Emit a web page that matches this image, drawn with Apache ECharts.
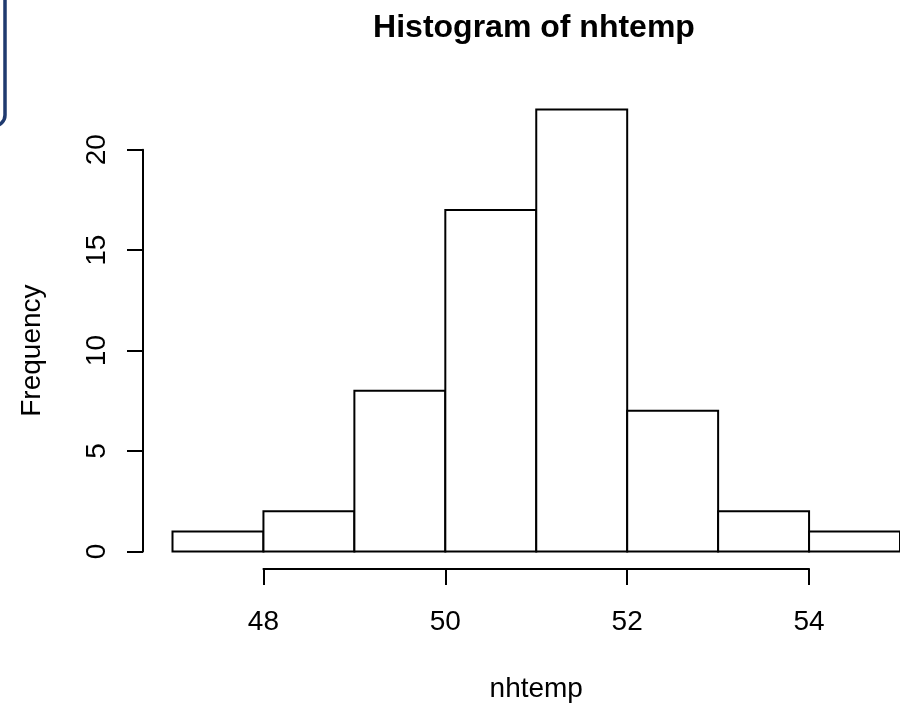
<!DOCTYPE html>
<html>
<head>
<meta charset="utf-8">
<script src="https://cdn.jsdelivr.net/npm/echarts@6/dist/echarts.min.js"></script>
<style>
html,body{margin:0;padding:0;background:#fff;}
#chart{width:900px;height:708px;}
</style>
</head>
<body>
<div id="chart"></div>
<script>
// ---- data ----
const binStarts = [47, 48, 49, 50, 51, 52, 53, 54];
const binWidth = 1;
const counts = [1, 2, 8, 17, 22, 7, 2, 1];
const xTicks = [48, 50, 52, 54];
const yTicks = [0, 5, 10, 15, 20];
const titleText = 'Histogram of nhtemp';
const xName = 'nhtemp';
const yName = 'Frequency';

// ---- layout ----
const FONT = '"Liberation Sans", Arial, Helvetica, sans-serif';
const W = 900, H = 708;
const xMin = 47, xMax = 55, yMax = 22;
const plotLeft = 172.5, plotRight = 900;   // pixel x of xMin / xMax
const plotTop = 109.5, plotBottom = 551.5;  // pixel y of yMax / 0
const pxX = (plotRight - plotLeft) / (xMax - xMin);
const pxY = (plotBottom - plotTop) / yMax;
const xT0 = xTicks[0], xT1 = xTicks[xTicks.length - 1];
const yT1 = yTicks[yTicks.length - 1];

const chart = echarts.init(document.getElementById('chart'), null, {renderer: 'canvas'});

const histData = binStarts.map((s, i) => [s, s + binWidth, counts[i]]);

const option = {
  animation: false,
  backgroundColor: '#ffffff',
  title: {
    text: titleText,
    left: 529, top: 7, textAlign: 'center',
    textStyle: {fontFamily: FONT, fontSize: 32, fontWeight: 'bold', color: '#000'}
  },
  graphic: [{
    type: 'rect', silent: true,
    shape: {x: -40, y: -40, width: 45, height: 166, r: 11},
    style: {fill: 'none', stroke: '#1f3a6f', lineWidth: 3.5}
  }],
  grid: [
    {left: plotLeft, right: W - plotRight, top: plotTop, bottom: H - plotBottom, containLabel: false},
    {left: plotLeft + (xT0 - xMin) * pxX, right: W - (plotLeft + (xT1 - xMin) * pxX), top: plotTop, bottom: H - plotBottom, containLabel: false},
    {left: plotLeft, right: W - plotRight, top: plotBottom - yT1 * pxY, bottom: H - plotBottom, containLabel: false}
  ],
  xAxis: [
    {type: 'value', gridIndex: 0, min: xMin, max: xMax, show: false},
    {type: 'value', gridIndex: 1, min: xT0, max: xT1, interval: 2, offset: 19,
     axisLine: {show: true, onZero: false, lineStyle: {color: '#000', width: 2}},
     axisTick: {show: true, length: 16, lineStyle: {color: '#000', width: 2}},
     axisLabel: {show: true, margin: 39, color: '#000', fontFamily: FONT, fontSize: 28},
     splitLine: {show: false},
     name: xName, nameLocation: 'middle', nameGap: 106,
     nameTextStyle: {color: '#000', fontFamily: FONT, fontSize: 28}},
    {type: 'value', gridIndex: 2, min: xMin, max: xMax, show: false}
  ],
  yAxis: [
    {type: 'value', gridIndex: 0, min: 0, max: yMax, show: false},
    {type: 'value', gridIndex: 1, min: 0, max: yMax, show: false},
    {type: 'value', gridIndex: 2, min: 0, max: yT1, interval: 5, offset: 29.5,
     axisLine: {show: true, onZero: false, lineStyle: {color: '#000', width: 2}},
     axisTick: {show: true, length: 16, lineStyle: {color: '#000', width: 2}},
     axisLabel: {show: true, rotate: 90, margin: 32, color: '#000', fontFamily: FONT, fontSize: 28},
     splitLine: {show: false},
     name: yName, nameLocation: 'middle', nameRotate: 90, nameGap: 97,
     nameTextStyle: {color: '#000', fontFamily: FONT, fontSize: 28}}
  ],
  series: [{
    type: 'custom',
    xAxisIndex: 0, yAxisIndex: 0,
    data: histData,
    encode: {x: [0, 1], y: 2},
    renderItem: function (params, api) {
      const p0 = api.coord([api.value(0), api.value(2)]);
      const p1 = api.coord([api.value(1), 0]);
      return {
        type: 'rect',
        shape: {x: p0[0], y: p0[1], width: p1[0] - p0[0], height: p1[1] - p0[1]},
        style: {fill: '#ffffff', stroke: '#000000', lineWidth: 2}
      };
    }
  }]
};
chart.setOption(option);
</script>
</body>
</html>
